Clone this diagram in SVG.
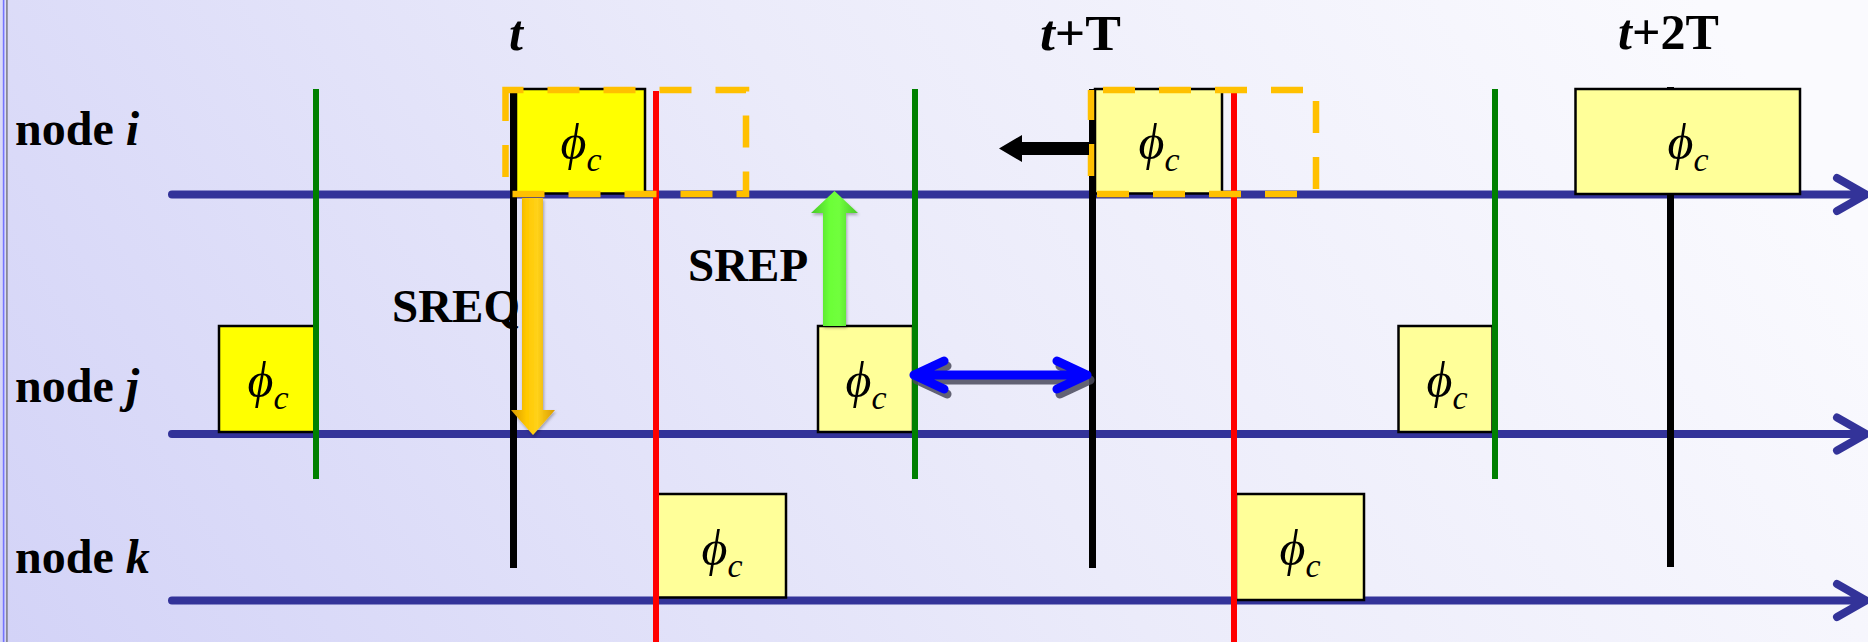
<svg xmlns="http://www.w3.org/2000/svg" width="1868" height="642" viewBox="0 0 1868 642">
  <defs>
    <linearGradient id="bg" gradientUnits="userSpaceOnUse" x1="0" y1="700" x2="1500" y2="-300">
      <stop offset="0" stop-color="#d2d2f7"/>
      <stop offset="0.55" stop-color="#ebebfa"/>
      <stop offset="1" stop-color="#fafafe"/>
    </linearGradient>
    <linearGradient id="gold" x1="0" y1="0" x2="1" y2="0">
      <stop offset="0" stop-color="#d99a00"/>
      <stop offset="0.35" stop-color="#ffc800"/>
      <stop offset="0.6" stop-color="#ffd21a"/>
      <stop offset="1" stop-color="#d99a00"/>
    </linearGradient>
    <linearGradient id="lime" x1="0" y1="0" x2="1" y2="0">
      <stop offset="0" stop-color="#48c828"/>
      <stop offset="0.4" stop-color="#6cff38"/>
      <stop offset="0.6" stop-color="#70ff3c"/>
      <stop offset="1" stop-color="#48c828"/>
    </linearGradient>
    <filter id="soft" x="-30%" y="-10%" width="160%" height="120%">
      <feDropShadow dx="1" dy="2" stdDeviation="1.5" flood-color="#000" flood-opacity="0.3"/>
    </filter>
    <style>
      .axis { stroke: #333399; stroke-width: 8; fill: none; stroke-linecap: round; stroke-linejoin: round; }
      .green { stroke: #008000; stroke-width: 6; }
      .red { stroke: #ff0000; stroke-width: 6; }
      .black { stroke: #000000; stroke-width: 7; }
      .box { stroke: #000000; stroke-width: 2.5; }
      .hot { fill: #ffff00; }
      .pale { fill: #ffff99; }
      .slot { fill: none; stroke: #ffc000; stroke-width: 6.5; stroke-dasharray: 32 24; }
      .phi { font-family: "Liberation Serif", "DejaVu Serif", serif; font-style: italic; font-size: 50px; fill: #000; }
      .sub { font-size: 34px; }
      .lbl { font-family: "Liberation Serif", "Times New Roman", serif; font-weight: bold; font-size: 47px; fill: #000; }
      .node { font-size: 48px; }
      .time { font-family: "Liberation Serif", "Times New Roman", serif; font-weight: bold; font-size: 50px; fill: #000; }
      .it { font-style: italic; }
      .dbl { fill: none; stroke-width: 9; stroke-linecap: round; stroke-linejoin: round; }
    </style>
  </defs>

  <!-- slide background and left rule -->
  <rect x="0" y="0" width="1868" height="642" fill="url(#bg)"/>
  <line x1="3.6" y1="0" x2="3.6" y2="642" stroke="#7474ff" stroke-width="1.6"/>
  <line x1="6.9" y1="0" x2="6.9" y2="642" stroke="#8a8a96" stroke-width="1.8"/>

  <!-- node labels -->
  <g id="label-node-i"><text class="lbl node" x="15" y="145">node <tspan class="it">i</tspan></text></g>
  <g id="label-node-j"><text class="lbl node" x="15" y="402">node <tspan class="it">j</tspan></text></g>
  <g id="label-node-k"><text class="lbl node" x="15" y="573">node <tspan class="it">k</tspan></text></g>

  <!-- time labels -->
  <g id="label-t"><text class="time" x="509" y="50"><tspan class="it">t</tspan></text></g>
  <g id="label-t-T"><text class="time" x="1040" y="50" textLength="81" lengthAdjust="spacingAndGlyphs"><tspan class="it">t</tspan>+T</text></g>
  <g id="label-t-2T"><text class="time" x="1618" y="49"><tspan class="it">t</tspan>+2T</text></g>

  <!-- message labels -->
  <g id="label-sreq"><text class="lbl" font-size="46" x="392" y="322">SREQ</text></g>
  <g id="label-srep"><text class="lbl" font-size="46" x="688" y="281">SREP</text></g>

  <!-- time axes, one per node -->
  <g id="connectors">
    <g id="axis-i"><path class="axis" d="M172,194.5 H1862 M1837,178 L1866,194.5 L1837,211"/></g>
    <g id="axis-j"><path class="axis" d="M172,434 H1862 M1837,417.5 L1866,434 L1837,450.5"/></g>
    <g id="axis-k"><path class="axis" d="M172,600.5 H1862 M1837,584 L1866,600.5 L1837,617"/></g>

    <!-- period markers at t, t+T, t+2T -->
    <line class="black" x1="513.5" y1="89" x2="513.5" y2="568"/>
    <line class="black" x1="1092.5" y1="89" x2="1092.5" y2="568"/>
    <line class="black" x1="1670.5" y1="87" x2="1670.5" y2="567"/>
  </g>

  <!-- contention slots -->
  <g id="slot-i1"><rect class="box hot" x="516" y="89" width="129" height="104.5"/>
    <text class="phi" x="581" y="159" text-anchor="middle">ϕ<tspan class="sub" dy="12">c</tspan></text></g>
  <g id="slot-i2"><rect class="box pale" x="1095" y="89" width="127" height="104.5"/>
    <text class="phi" x="1159" y="159" text-anchor="middle">ϕ<tspan class="sub" dy="12">c</tspan></text></g>
  <g id="slot-i3"><rect class="box pale" x="1575.5" y="89" width="224.5" height="105"/>
    <text class="phi" x="1688" y="159" text-anchor="middle">ϕ<tspan class="sub" dy="12">c</tspan></text></g>
  <g id="slot-j1"><rect class="box hot" x="219" y="326" width="97" height="106"/>
    <text class="phi" x="268" y="397" text-anchor="middle">ϕ<tspan class="sub" dy="12">c</tspan></text></g>
  <g id="slot-j2"><rect class="box pale" x="818" y="326" width="95" height="106"/>
    <text class="phi" x="866" y="397" text-anchor="middle">ϕ<tspan class="sub" dy="12">c</tspan></text></g>
  <g id="slot-j3"><rect class="box pale" x="1398.5" y="326" width="94" height="106"/>
    <text class="phi" x="1447" y="397" text-anchor="middle">ϕ<tspan class="sub" dy="12">c</tspan></text></g>
  <g id="slot-k1"><rect class="box pale" x="657" y="494" width="129" height="103.5"/>
    <text class="phi" x="722" y="565" text-anchor="middle">ϕ<tspan class="sub" dy="12">c</tspan></text></g>
  <g id="slot-k2"><rect class="box pale" x="1236" y="494" width="128" height="106"/>
    <text class="phi" x="1300" y="565" text-anchor="middle">ϕ<tspan class="sub" dy="12">c</tspan></text></g>

  <!-- per-node reference lines -->
  <g id="markers">
    <line class="green" x1="316" y1="89" x2="316" y2="479"/>
    <line class="green" x1="915" y1="89" x2="915" y2="479"/>
    <line class="green" x1="1495" y1="89" x2="1495" y2="479"/>
    <line class="red" x1="656" y1="91" x2="656" y2="642"/>
    <line class="red" x1="1234" y1="91" x2="1234" y2="642"/>
  </g>

  <!-- shifted slot outlines -->
  <g id="window-1"><rect class="slot" x="505.5" y="90" width="240.5" height="104" stroke-dashoffset="14"/></g>
  <g id="window-2"><rect class="slot" x="1091" y="90" width="225" height="104" stroke-dashoffset="44"/></g>

  <g id="connectors-arrows">
    <!-- SREQ: i to j -->
    <polygon id="sreq" filter="url(#soft)" fill="url(#gold)"
      points="522,198 543,198 543,410 555,410 533,435 511,410 522,410"/>
    <!-- SREP: j to i -->
    <polygon id="srep" filter="url(#soft)" fill="url(#lime)"
      points="834.5,191 858,213 846,213 846,326 823,326 823,213 811,213"/>
    <!-- slot shift -->
    <polygon id="shift" fill="#000"
      points="1089,142 1022,142 1022,135 999,148.5 1022,162 1022,155 1089,155"/>
    <!-- offset span -->
    <g id="offset">
      <path class="dbl" stroke="#4a4a5c" opacity="0.85" transform="translate(3,5)"
        d="M914,375 H1087 M944,361 L914,375 L944,389 M1057,361 L1087,375 L1057,389"/>
      <path class="dbl" stroke="#0000ff"
        d="M914,375 H1087 M944,361 L914,375 L944,389 M1057,361 L1087,375 L1057,389"/>
    </g>
  </g>
</svg>
